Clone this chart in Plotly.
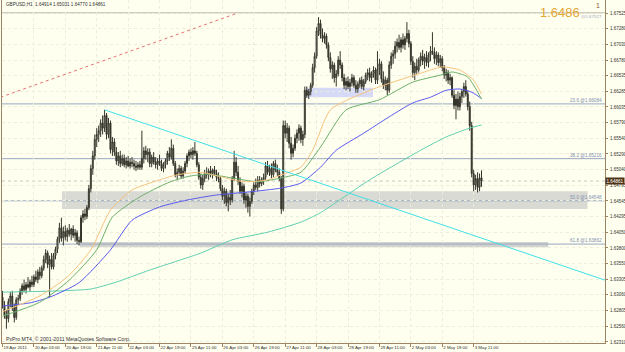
import plotly.graph_objects as go

# ---------------- data ----------------
tick_bars = [0, 16, 32, 48, 64, 80, 96, 112, 128, 144, 160, 176, 192, 208, 224, 240]
tick_labels = ["19 Apr 2011", "20 Apr 03:00", "20 Apr 19:00", "21 Apr 11:00", "22 Apr 03:00",
               "22 Apr 19:00", "25 Apr 11:00", "26 Apr 03:00", "26 Apr 19:00", "27 Apr 11:00",
               "28 Apr 03:00", "28 Apr 19:00", "29 Apr 11:00", "2 May 03:00", "2 May 19:00",
               "3 May 11:00"]
price_ticks = [1.67525, 1.67280, 1.67030, 1.66780, 1.66535, 1.66285, 1.66035, 1.65790, 1.65540,
               1.65290, 1.65040, 1.64795, 1.64545, 1.64295, 1.64050, 1.63800, 1.63550, 1.63305,
               1.63060, 1.62805, 1.62560, 1.62310]
price_tick_text = ["1.67525", "1.67280", "1.67030", "1.66780", "1.66535", "1.66285", "1.66035",
                   "1.65790", "1.65540", "1.65290", "1.65040", "1.64795", "1.64545", "1.64295",
                   "1.64050", "1.63800", "1.63550", "1.63305", "1.63060", "1.62805", "1.62560",
                   "1.62310"]

opens = [
    1.6302, 1.6290, 1.6274, 1.6268, 1.6295, 1.6304, 1.6286, 1.6270, 1.6298, 1.6300,
    1.6312, 1.6320, 1.6314, 1.6322, 1.6318, 1.6326, 1.6322, 1.6334, 1.6330, 1.6342,
    1.6336, 1.6348, 1.6362, 1.6372, 1.6354, 1.6362, 1.6350, 1.6368, 1.6378, 1.6394,
    1.6412, 1.6396, 1.6406, 1.6398, 1.6408, 1.6402, 1.6410, 1.6400, 1.6404, 1.6392,
    1.6390, 1.6428, 1.6434, 1.6430, 1.6444, 1.6474, 1.6506, 1.6526, 1.6552, 1.6560,
    1.6566, 1.6578, 1.6570, 1.6590, 1.6560, 1.6578, 1.6536, 1.6548, 1.6532, 1.6518,
    1.6526, 1.6514, 1.6522, 1.6512, 1.6518, 1.6510, 1.6516, 1.6514, 1.6510, 1.6508,
    1.6512, 1.6508, 1.6522, 1.6534, 1.6528, 1.6532, 1.6514, 1.6524, 1.6516, 1.6512,
    1.6518, 1.6514, 1.6506, 1.6512, 1.6518, 1.6530, 1.6524, 1.6538, 1.6514, 1.6496,
    1.6500, 1.6506, 1.6494, 1.6502, 1.6514, 1.6526, 1.6532, 1.6528, 1.6534, 1.6530,
    1.6512, 1.6492, 1.6480, 1.6490, 1.6498, 1.6496, 1.6502, 1.6498, 1.6504, 1.6498,
    1.6492, 1.6490, 1.6474, 1.6462, 1.6470, 1.6452, 1.6460, 1.6456, 1.6490, 1.6516,
    1.6500, 1.6486, 1.6470, 1.6478, 1.6456, 1.6462, 1.6446, 1.6454, 1.6470, 1.6480,
    1.6476, 1.6488, 1.6482, 1.6488, 1.6492, 1.6510, 1.6500, 1.6506, 1.6496, 1.6514,
    1.6504, 1.6500, 1.6490, 1.6442, 1.6574, 1.6562, 1.6570, 1.6546, 1.6530, 1.6538,
    1.6554, 1.6562, 1.6570, 1.6552, 1.6560, 1.6630, 1.6622, 1.6628, 1.6638, 1.6666,
    1.6684, 1.6724, 1.6736, 1.6718, 1.6712, 1.6716, 1.6702, 1.6682, 1.6664, 1.6670,
    1.6650, 1.6656, 1.6678, 1.6670, 1.6650, 1.6638, 1.6644, 1.6636, 1.6642, 1.6650,
    1.6638, 1.6632, 1.6640, 1.6646, 1.6636, 1.6644, 1.6654, 1.6658, 1.6650, 1.6656,
    1.6662, 1.6646, 1.6664, 1.6672, 1.6648, 1.6638, 1.6646, 1.6630, 1.6670, 1.6684,
    1.6688, 1.6700, 1.6706, 1.6698, 1.6710, 1.6702, 1.6712, 1.6720, 1.6704, 1.6676,
    1.6658, 1.6668, 1.6662, 1.6678, 1.6684, 1.6676, 1.6682, 1.6674, 1.6686, 1.6692,
    1.6690, 1.6680, 1.6686, 1.6674, 1.6680, 1.6666, 1.6654, 1.6658, 1.6646, 1.6650,
    1.6622, 1.6606, 1.6616, 1.6604, 1.6620, 1.6628, 1.6636, 1.6624, 1.6604, 1.6574,
    1.6498, 1.6480, 1.6490, 1.6476, 1.64914]

highs = [
    1.6312, 1.6296, 1.6282, 1.6300, 1.6310, 1.6312, 1.6292, 1.6302, 1.6306, 1.6316,
    1.6324, 1.6330, 1.6326, 1.6334, 1.6330, 1.6336, 1.6338, 1.6344, 1.6346, 1.6350,
    1.6352, 1.6368, 1.6378, 1.6376, 1.6368, 1.6372, 1.6372, 1.6382, 1.6398, 1.6420,
    1.6428, 1.6414, 1.6416, 1.6412, 1.6418, 1.6412, 1.6416, 1.6410, 1.6408, 1.6398,
    1.6432, 1.6440, 1.6442, 1.6448, 1.6480, 1.6512, 1.6534, 1.6560, 1.6570, 1.6574,
    1.6584, 1.6590, 1.6599, 1.6594, 1.6586, 1.6582, 1.6556, 1.6554, 1.6540, 1.6532,
    1.6534, 1.6528, 1.6528, 1.6524, 1.6526, 1.6522, 1.6524, 1.6520, 1.6518, 1.6516,
    1.6518, 1.6566, 1.6540, 1.6542, 1.6538, 1.6538, 1.6528, 1.6532, 1.6524, 1.6522,
    1.6528, 1.6520, 1.6516, 1.6522, 1.6534, 1.6540, 1.6552, 1.6544, 1.6518, 1.6506,
    1.6512, 1.6510, 1.6508, 1.6518, 1.6530, 1.6536, 1.6538, 1.6540, 1.6548, 1.6534,
    1.6516, 1.6498, 1.6496, 1.6504, 1.6508, 1.6506, 1.6510, 1.6506, 1.6510, 1.6504,
    1.6500, 1.6494, 1.6480, 1.6476, 1.6474, 1.6466, 1.6472, 1.6494, 1.6534, 1.6524,
    1.6510, 1.6492, 1.6484, 1.6482, 1.6468, 1.6466, 1.6460, 1.6474, 1.6484, 1.6490,
    1.6494, 1.6494, 1.6492, 1.6498, 1.6516, 1.6518, 1.6512, 1.6514, 1.6518, 1.6520,
    1.6512, 1.6506, 1.6494, 1.6582, 1.6582, 1.6578, 1.6574, 1.6556, 1.6544, 1.6560,
    1.6568, 1.6576, 1.6574, 1.6566, 1.6636, 1.6636, 1.6632, 1.6642, 1.6672, 1.6690,
    1.6730, 1.6746, 1.6742, 1.6728, 1.6722, 1.6720, 1.6706, 1.6690, 1.6676, 1.6674,
    1.6662, 1.6684, 1.6692, 1.6674, 1.6656, 1.6650, 1.6652, 1.6648, 1.6656, 1.6654,
    1.6646, 1.6644, 1.6650, 1.6652, 1.6648, 1.6658, 1.6664, 1.6666, 1.6660, 1.6668,
    1.6666, 1.6692, 1.6680, 1.6676, 1.6660, 1.6652, 1.6650, 1.6676, 1.6690, 1.6694,
    1.6708, 1.6712, 1.6718, 1.6714, 1.6720, 1.6716, 1.6738, 1.6726, 1.6708, 1.6684,
    1.6674, 1.6680, 1.6682, 1.6690, 1.6694, 1.6688, 1.6692, 1.6690, 1.6700, 1.6722,
    1.6698, 1.6692, 1.6690, 1.6686, 1.6684, 1.6670, 1.6664, 1.6662, 1.6656, 1.6652,
    1.6630, 1.6624, 1.6628, 1.6626, 1.6632, 1.6642, 1.6646, 1.6630, 1.6612, 1.6580,
    1.6504, 1.6496, 1.6500, 1.6498, 1.65031]

lows = [
    1.6284, 1.6268, 1.6252, 1.6262, 1.6286, 1.6280, 1.6262, 1.6266, 1.6290, 1.6296,
    1.6306, 1.6310, 1.6308, 1.6316, 1.6312, 1.6318, 1.6318, 1.6326, 1.6324, 1.6330,
    1.6332, 1.6344, 1.6356, 1.6348, 1.6302, 1.6346, 1.6346, 1.6362, 1.6372, 1.6388,
    1.6390, 1.6384, 1.6392, 1.6390, 1.6398, 1.6392, 1.6396, 1.6390, 1.6386, 1.6384,
    1.6388, 1.6420, 1.6424, 1.6426, 1.6440, 1.6468, 1.6496, 1.6520, 1.6540, 1.6548,
    1.6556, 1.6560, 1.6564, 1.6552, 1.6554, 1.6530, 1.6526, 1.6526, 1.6512, 1.6510,
    1.6508, 1.6510, 1.6508, 1.6506, 1.6508, 1.6506, 1.6508, 1.6504, 1.6502, 1.6504,
    1.6504, 1.6504, 1.6514, 1.6520, 1.6516, 1.6508, 1.6508, 1.6512, 1.6506, 1.6504,
    1.6510, 1.6502, 1.6500, 1.6506, 1.6512, 1.6518, 1.6520, 1.6510, 1.6492, 1.6488,
    1.6494, 1.6490, 1.6490, 1.6498, 1.6508, 1.6518, 1.6522, 1.6520, 1.6526, 1.6508,
    1.6488, 1.6474, 1.6472, 1.6484, 1.6490, 1.6488, 1.6492, 1.6490, 1.6494, 1.6486,
    1.6484, 1.6470, 1.6456, 1.6450, 1.6446, 1.6438, 1.6448, 1.6452, 1.6486, 1.6494,
    1.6480, 1.6466, 1.6460, 1.6450, 1.6444, 1.6436, 1.6430, 1.6450, 1.6464, 1.6472,
    1.6470, 1.6476, 1.6478, 1.6480, 1.6488, 1.6496, 1.6494, 1.6490, 1.6492, 1.6500,
    1.6494, 1.6486, 1.6434, 1.6438, 1.6554, 1.6548, 1.6538, 1.6520, 1.6524, 1.6534,
    1.6546, 1.6550, 1.6546, 1.6542, 1.6554, 1.6618, 1.6616, 1.6622, 1.6634, 1.6658,
    1.6680, 1.6716, 1.6712, 1.6706, 1.6704, 1.6696, 1.6676, 1.6658, 1.6648, 1.6642,
    1.6636, 1.6652, 1.6664, 1.6644, 1.6632, 1.6630, 1.6632, 1.6628, 1.6636, 1.6634,
    1.6626, 1.6626, 1.6634, 1.6632, 1.6630, 1.6640, 1.6646, 1.6644, 1.6642, 1.6650,
    1.6640, 1.6640, 1.6654, 1.6642, 1.6632, 1.6630, 1.6622, 1.6626, 1.6664, 1.6672,
    1.6680, 1.6690, 1.6694, 1.6690, 1.6696, 1.6694, 1.6706, 1.6698, 1.6670, 1.6650,
    1.6646, 1.6656, 1.6658, 1.6668, 1.6670, 1.6664, 1.6668, 1.6666, 1.6676, 1.6686,
    1.6672, 1.6670, 1.6668, 1.6666, 1.6660, 1.6648, 1.6644, 1.6640, 1.6638, 1.6618,
    1.6600, 1.6584, 1.6598, 1.6598, 1.6610, 1.6618, 1.6620, 1.6598, 1.6566, 1.6492,
    1.6470, 1.6472, 1.6468, 1.6470, 1.64770]

closes = [
    1.6290, 1.6274, 1.6268, 1.6295, 1.6304, 1.6286, 1.6270, 1.6298, 1.6300, 1.6312,
    1.6320, 1.6314, 1.6322, 1.6318, 1.6326, 1.6322, 1.6334, 1.6330, 1.6342, 1.6336,
    1.6348, 1.6362, 1.6372, 1.6354, 1.6362, 1.6350, 1.6368, 1.6378, 1.6394, 1.6412,
    1.6396, 1.6406, 1.6398, 1.6408, 1.6402, 1.6410, 1.6400, 1.6404, 1.6392, 1.6390,
    1.6428, 1.6434, 1.6430, 1.6444, 1.6474, 1.6506, 1.6526, 1.6552, 1.6560, 1.6566,
    1.6578, 1.6570, 1.6590, 1.6560, 1.6578, 1.6536, 1.6548, 1.6532, 1.6518, 1.6526,
    1.6514, 1.6522, 1.6512, 1.6518, 1.6510, 1.6516, 1.6514, 1.6510, 1.6508, 1.6512,
    1.6508, 1.6522, 1.6534, 1.6528, 1.6532, 1.6514, 1.6524, 1.6516, 1.6512, 1.6518,
    1.6514, 1.6506, 1.6512, 1.6518, 1.6530, 1.6524, 1.6538, 1.6514, 1.6496, 1.6500,
    1.6506, 1.6494, 1.6502, 1.6514, 1.6526, 1.6532, 1.6528, 1.6534, 1.6530, 1.6512,
    1.6492, 1.6480, 1.6490, 1.6498, 1.6496, 1.6502, 1.6498, 1.6504, 1.6498, 1.6492,
    1.6490, 1.6474, 1.6462, 1.6470, 1.6452, 1.6460, 1.6456, 1.6490, 1.6516, 1.6500,
    1.6486, 1.6470, 1.6478, 1.6456, 1.6462, 1.6446, 1.6454, 1.6470, 1.6480, 1.6476,
    1.6488, 1.6482, 1.6488, 1.6492, 1.6510, 1.6500, 1.6506, 1.6496, 1.6514, 1.6504,
    1.6500, 1.6490, 1.6442, 1.6574, 1.6562, 1.6570, 1.6546, 1.6530, 1.6538, 1.6554,
    1.6562, 1.6570, 1.6552, 1.6560, 1.6630, 1.6622, 1.6628, 1.6638, 1.6666, 1.6684,
    1.6724, 1.6736, 1.6718, 1.6712, 1.6716, 1.6702, 1.6682, 1.6664, 1.6670, 1.6650,
    1.6656, 1.6678, 1.6670, 1.6650, 1.6638, 1.6644, 1.6636, 1.6642, 1.6650, 1.6638,
    1.6632, 1.6640, 1.6646, 1.6636, 1.6644, 1.6654, 1.6658, 1.6650, 1.6656, 1.6662,
    1.6646, 1.6664, 1.6672, 1.6648, 1.6638, 1.6646, 1.6630, 1.6670, 1.6684, 1.6688,
    1.6700, 1.6706, 1.6698, 1.6710, 1.6702, 1.6712, 1.6720, 1.6704, 1.6676, 1.6658,
    1.6668, 1.6662, 1.6678, 1.6684, 1.6676, 1.6682, 1.6674, 1.6686, 1.6692, 1.6690,
    1.6680, 1.6686, 1.6674, 1.6680, 1.6666, 1.6654, 1.6658, 1.6646, 1.6650, 1.6622,
    1.6606, 1.6616, 1.6604, 1.6620, 1.6628, 1.6636, 1.6624, 1.6604, 1.6574, 1.6498,
    1.6480, 1.6490, 1.6476, 1.6491, 1.64861]

bars = list(range(len(closes)))

# moving averages (bar index, price)
ma_orange_x = [0, 19, 33, 45, 55, 66, 80, 89, 101, 111, 123, 135, 142, 152, 158, 167, 184, 197, 213, 224, 233, 240, 244]
ma_orange_y = [1.6279, 1.6304, 1.6334, 1.6377, 1.6440, 1.6472, 1.6488, 1.6496, 1.6500, 1.6493, 1.6485, 1.6488,
               1.6496, 1.6508, 1.6535, 1.6599, 1.6626, 1.6641, 1.6657, 1.6667, 1.6662, 1.6646, 1.6624]
ma_green_x = [0, 19, 34, 48, 56, 70, 84, 94, 104, 117, 130, 142, 152, 162, 175, 192, 209, 223, 229, 237, 244]
ma_green_y = [1.6272, 1.6294, 1.6329, 1.6377, 1.6429, 1.6461, 1.6483, 1.6493, 1.6497, 1.6491, 1.6485, 1.6491,
              1.6500, 1.6540, 1.6599, 1.6615, 1.6643, 1.6654, 1.6659, 1.6651, 1.6616]
ma_blue_x = [0, 14, 24, 39, 55, 66, 80, 94, 109, 126, 142, 152, 162, 170, 184, 197, 209, 218, 226, 233, 239, 244]
ma_blue_y = [1.6288, 1.6293, 1.6302, 1.6325, 1.6377, 1.6424, 1.6445, 1.6456, 1.6464, 1.6469, 1.6475, 1.6483,
             1.6508, 1.6535, 1.6562, 1.6588, 1.6610, 1.6619, 1.6630, 1.6632, 1.6627, 1.6617]
ma_teal_x = [0, 29, 45, 58, 75, 101, 117, 135, 152, 162, 187, 213, 226, 238, 244]
ma_teal_y = [1.6310, 1.6312, 1.6315, 1.6326, 1.6345, 1.6372, 1.6393, 1.6405, 1.6421, 1.6436, 1.6488, 1.6535,
             1.6556, 1.6570, 1.6575]

trend_x = [52, 306.9]
trend_y = [1.6599, 1.6329]
fib_diag_x = [-1, 120]
fib_diag_y = [1.6619, 1.67527]
fib_levels = [1.66084, 1.65216, 1.64548, 1.63862]
fib_labels = ["23.6 @1.66084", "38.2 @1.65216", "50.0 @1.64548", "61.8 @1.63862"]
fib_top = 1.67527
last_price = 1.64861

X_MIN, X_MAX = -0.25, 306.9
Y_MIN, Y_MAX = 1.62294, 1.67731

BG = "#FFFFF0"
FRAME = "#9C8464"
TXT = "#303030"
FONT = "Arial"

fig = go.Figure()

# zones
fig.add_shape(type="rect", x0=30.3, x1=298, y0=1.6442, y1=1.6470, xref="x", yref="y",
              fillcolor="#DADAD4", line=dict(width=0), layer="below")
fig.add_shape(type="rect", x0=39.5, x1=278, y0=1.6381, y1=1.63895, xref="x", yref="y",
              fillcolor="#D2D2CE", line=dict(width=0), layer="below")
fig.add_shape(type="rect", x0=154.6, x1=188.7, y0=1.6619, y1=1.6634, xref="x", yref="y",
              fillcolor="#D6DAF6", line=dict(width=0), layer="below")

# fibonacci levels
for lv in fib_levels:
    fig.add_shape(type="line", x0=X_MIN, x1=X_MAX, y0=lv, y1=lv, xref="x", yref="y",
                  line=dict(color="#98A8C0", width=1), layer="below")
fig.add_shape(type="line", x0=X_MIN, x1=X_MAX, y0=fib_top, y1=fib_top, xref="x", yref="y",
              line=dict(color="#B8B0A4", width=1), layer="below")
# bid line
fig.add_shape(type="line", x0=X_MIN, x1=X_MAX, y0=last_price, y1=last_price, xref="x", yref="y",
              line=dict(color="#C8C8C0", width=1, dash="dot"), layer="below")

# moving averages
for mx, my, col in [(ma_teal_x, ma_teal_y, "#5FCFB0"), (ma_blue_x, ma_blue_y, "#5A5AF0"),
                    (ma_green_x, ma_green_y, "#6CB06C"), (ma_orange_x, ma_orange_y, "#F5C27E")]:
    fig.add_trace(go.Scatter(x=mx, y=my, mode="lines", line=dict(color=col, width=1, shape="spline", smoothing=0.6),
                             hoverinfo="skip", showlegend=False))

# trend lines
fig.add_trace(go.Scatter(x=trend_x, y=trend_y, mode="lines", line=dict(color="#40E0E8", width=1),
                         hoverinfo="skip", showlegend=False))
fig.add_trace(go.Scatter(x=fib_diag_x, y=fib_diag_y, mode="lines", line=dict(color="#E87070", width=1, dash="dot"),
                         hoverinfo="skip", showlegend=False))

# candles
fig.add_trace(go.Candlestick(x=bars, open=opens, high=highs, low=lows, close=closes,
                             increasing=dict(line=dict(color="#34342A", width=1), fillcolor="#B0B0A6"),
                             decreasing=dict(line=dict(color="#34342A", width=1), fillcolor="#34342A"),
                             whiskerwidth=0, showlegend=False))

# fib labels
for lv, txt in zip(fib_levels, fib_labels):
    fig.add_annotation(x=1.0, xref="paper", xanchor="right", y=lv, yref="y", yanchor="bottom",
                       text=txt, showarrow=False, font=dict(size=4.6, color="#8090B0", family=FONT),
                       xshift=-1, yshift=-1)

fig.add_annotation(x=0.003, xref="paper", xanchor="left", y=0.986, yref="paper", yanchor="middle",
                   text="GBPUSD,H1  1.64914 1.65031 1.64770 1.64861", showarrow=False,
                   font=dict(size=4.6, color=TXT, family=FONT))
fig.add_annotation(x=0.003, xref="paper", xanchor="left", y=0.012, yref="paper", yanchor="middle",
                   text="PxPro MT4, © 2001-2011 MetaQuotes Software Corp.", showarrow=False,
                   font=dict(size=5.2, color=TXT, family=FONT))
fig.add_annotation(x=0.962, xref="paper", xanchor="right", y=fib_top, yref="y", yanchor="middle",
                   text="1.6486", showarrow=False, font=dict(size=13, color="#E3A634", family=FONT))
fig.add_annotation(x=0.999, xref="paper", xanchor="right", y=fib_top, yref="y", yanchor="top",
                   text="@1.67527", showarrow=False, font=dict(size=4.4, color="#98A8C0", family=FONT),
                   yshift=1)
fig.add_annotation(x=0.995, xref="paper", xanchor="right", y=0.999, yref="paper", yanchor="top",
                   text="1", showarrow=False, font=dict(size=7, color="#8C5A28", family=FONT))
fig.add_annotation(x=1.0, xref="paper", xanchor="left", y=last_price, yref="y", yanchor="middle",
                   text="1.64861", showarrow=False, bgcolor="#4E3216", borderpad=0.5,
                   font=dict(size=4.6, color="#FFFFFF", family=FONT))

fig.update_layout(
    width=625, height=352,
    margin=dict(l=2, r=20, t=0, b=9, autoexpand=False),
    paper_bgcolor=BG, plot_bgcolor=BG,
    showlegend=False,
    xaxis=dict(range=[X_MIN, X_MAX], tickvals=tick_bars, ticktext=tick_labels, tickangle=0,
               ticklabelposition="outside right", ticks="outside", ticklen=3, tickcolor=FRAME,
               tickfont=dict(size=4.4, color=TXT, family=FONT), automargin=False,
               ticklabelstandoff=0,
               showline=True, linecolor=FRAME, mirror=True, showgrid=True, gridcolor="#EDEDDC",
               griddash="dot", zeroline=False, rangeslider=dict(visible=False), fixedrange=True),
    yaxis=dict(range=[Y_MIN, Y_MAX], side="right", tickvals=price_ticks, ticktext=price_tick_text,
               ticks="outside", ticklen=2, tickcolor=FRAME, automargin=False, ticklabelstandoff=1,
               tickfont=dict(size=4.5, color=TXT, family=FONT),
               showline=True, linecolor=FRAME, mirror=True, showgrid=True, gridcolor="#EDEDDC",
               griddash="dot", zeroline=False, fixedrange=True),
)

fig.write_html("out.html")
